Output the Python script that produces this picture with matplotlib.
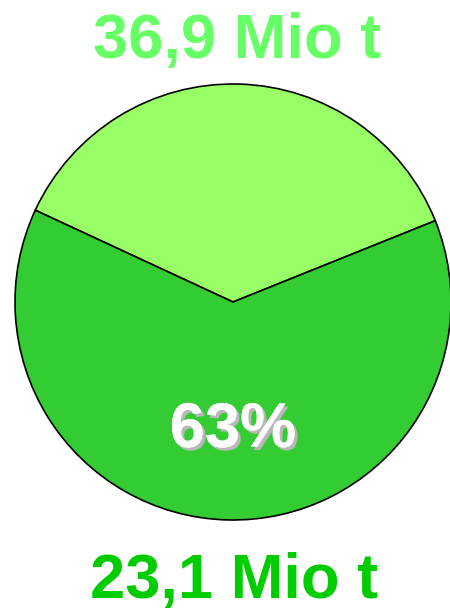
import matplotlib
matplotlib.use("Agg")
import matplotlib.pyplot as plt
import matplotlib.patheffects as pe

shares = [37, 63]
slice_colors = ["#99ff66", "#33cc33"]
top_label = "36,9 Mio t"
bottom_label = "23,1 Mio t"
pct_label = "63%"

W, H = 450, 609
fig = plt.figure(figsize=(W / 100, H / 100), dpi=100)
cx, cy, r = 233, 302, 218
ax = fig.add_axes([(cx - r) / W, (H - cy - r) / H, 2 * r / W, 2 * r / H])
ax.pie(shares, colors=slice_colors, startangle=21.9, counterclock=True,
       radius=1, wedgeprops=dict(edgecolor="black", linewidth=1.2))
ax.set_xlim(-1, 1)
ax.set_ylim(-1, 1)
ax.set_aspect("equal")
ax.axis("off")
for p in ax.patches:
    p.set_clip_on(False)

font = dict(family="Liberation Sans", weight="bold", size=45.5)
fig.text(237 / W, 1 - 57.5 / H, top_label, color="#66ff66", ha="center", va="baseline", **font)
fig.text(234 / W, 1 - 597.5 / H, bottom_label, color="#00cc00", ha="center", va="baseline", **font)
fig.text(233 / W, 1 - 447 / H, pct_label, color="white", ha="center", va="baseline",
         path_effects=[pe.withSimplePatchShadow(offset=(2.2, -2.2), shadow_rgbFace="#b8b8b8", alpha=1),
                       pe.Normal()], **font)

fig.savefig("out.png", dpi=100)
